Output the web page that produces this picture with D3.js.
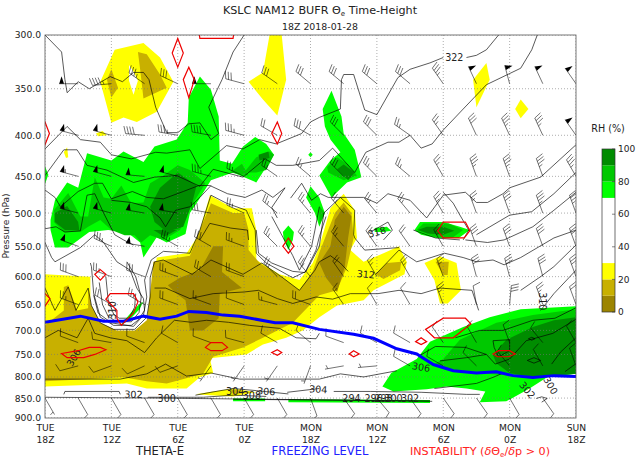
<!DOCTYPE html>
<html>
<head>
<meta charset="utf-8">
<script src="https://d3js.org/d3.v7.min.js"></script>
<style>
  html, body { margin: 0; padding: 0; background: #fff; }
  text { font-family: "DejaVu Sans", sans-serif; fill: #222; }
</style>
</head>
<body>
<svg id="chart" width="640" height="465"></svg>
<script>
// all shapes are [forecast hour, pressure hPa]
const timeTicks = [0, 6, 12, 18, 24, 30, 36, 42, 48];
const timeDays = ['TUE', 'TUE', 'TUE', 'TUE', 'MON', 'MON', 'MON', 'MON', 'SUN'];
const timeZulu = ['18Z', '12Z', '6Z', '0Z', '18Z', '12Z', '6Z', '0Z', '18Z'];
const pressureTicks = [300, 350, 400, 450, 500, 550, 600, 650, 700, 750, 800, 850, 900];
const rhTicks = [0, 20, 40, 60, 80, 100];
const rhBands = [[0, 10, '#9c8400'], [10, 20, '#c8b000'], [20, 30, '#ffff00'], [70, 80, '#00ff00'], [80, 90, '#00c800'], [90, 100, '#008c00']];

// RH <= 30 (yellow)
const yellowTop = [[6,386],[5,343],[6.3,313],[8.9,307],[10.4,320],[11.6,343],[10.1,374],[8.3,385],[7.1,380]];
const yellowRidge = [[20.3,300],[21.4,300],[21.8,341],[21,378],[19.7,361],[18.4,343],[19.7,334]];
const yellowSliver = [[39.9,325],[40.2,341],[39,369],[38.7,341]];
const yellowDiamond = [[43,361],[43.7,371],[43,381],[42.5,371]];
const yellowSpeck = [[2,414],[2.1,426],[1.9,427],[1.7,420]];
const yellowSpeck2 = [[4.6,398],[5.2,395],[5.6,400],[4.8,401]];
const yellowMain = [[0,596],[4.1,600],[4.1,652],[5,692],[6.2,706],[8.3,706],[9.3,680],[9.8,611],[10.1,568],[12.8,561],[13.7,537],[14,525],[14.9,475],[17,493],[18.7,493],[19.1,525],[19.1,572],[21.2,596],[23,606],[24.2,577],[24.8,550],[25.8,493],[27,473],[28,496],[28.2,537],[27.6,556],[28.8,575],[30.6,561],[32,550],[32.7,575],[32.5,596],[29.7,624],[28.8,642],[26.4,652],[24.8,674],[23.3,700],[21.8,715],[19.7,729],[18.2,750],[14.9,758],[15.2,791],[14,801],[12.8,827],[9.2,827],[7.4,815],[0,822]];
const yellowKnob = [[34.3,577],[35.7,566],[37.2,577],[37.6,624],[36.4,648],[35.7,648],[35.2,606]];
const yellowStrip = [[13.6,841],[17,827],[19.1,836],[17,846],[14.9,843]];
const yellowAreas = [yellowTop, yellowRidge, yellowSliver, yellowDiamond, yellowSpeck, yellowSpeck2, yellowMain, yellowKnob, yellowStrip];

// RH <= 20 (olive)
const oliveTopA = [[8.4,315],[9.2,317],[10.4,336],[11,349],[8.9,360],[8.6,331]];
const oliveTopB = [[5.6,341],[6,331],[6.6,349],[6,359]];
const oliveMain = [[0,690],[1.7,661],[1.7,618],[2.1,615],[2.9,661],[3.9,657],[3.9,620],[4.2,652],[5,685],[6.5,700],[8.1,700],[9.2,680],[9.5,630],[9.8,575],[13.1,565],[14,525],[15,486],[17,500],[18,500],[18.4,525],[18.4,556],[19.4,577],[21.5,602],[23,624],[24.2,591],[24.8,560],[26.2,500],[27,485],[27.7,500],[27.9,537],[27.3,583],[26.4,624],[24.8,633],[22.4,685],[19.7,715],[17.9,735],[15.2,755],[14.3,793],[11,815],[9.2,810],[7.1,801],[4.1,805],[0,810]];
const oliveBump = [[29.9,596],[30.9,577],[32.2,575],[32.1,589],[30.6,604]];
const oliveKnob = [[35.3,575],[36.5,575],[36.4,597],[36,597]];
const oliveStrip = [[16.7,829],[18.8,836],[17,841]];
const oliveAreas = [oliveTopA, oliveTopB, oliveMain, oliveBump, oliveKnob, oliveStrip];

// RH <= 10 (dark olive)
const darkOliveCore = [[11.1,615],[12.2,602],[14,589],[15.2,550],[16.1,550],[16,592],[17.8,620],[15.8,630],[15.7,676],[14.3,700],[13.1,700],[12.7,642],[11.9,630]];
const darkOliveLeg = [[26.2,510],[27,491],[27.7,505],[27.4,537],[27.1,583],[26.4,627],[25.4,602],[24.8,577],[25.8,550]];
const darkOliveAreas = [darkOliveCore, darkOliveLeg];

// RH >= 70 (light green)
const greenMain = [[0.5,510],[0.9,482],[2,458],[3,465],[3.8,421],[6,430],[7.1,419],[8.9,432],[9.9,413],[11.9,405],[12.9,386],[13,359],[14,338],[15,351],[15.7,379],[15.8,430],[16.9,434],[17.9,413],[19,402],[20,410],[20.7,423],[19.1,458],[17,445],[15,455],[13.7,486],[13.1,500],[12.7,531],[11,544],[10.1,536],[8.9,568],[8.6,544],[7.4,528],[5.7,525],[4,528],[2.1,552],[0.9,552],[0.5,525]];
const greenEdge = [[0,437],[0.3,448],[0,460]];
const greenColumn = [[25.9,352],[26.8,379],[27,398],[28,417],[28.6,451],[27.3,458],[25.9,478],[24.8,449],[25.8,430],[26.7,420],[25.8,405],[25.3,390],[25.1,371]];
const greenPatch = [[23.6,478],[24,463],[24.8,478],[25.3,500],[24.8,520],[24.4,500]];
const greenDrip = [[21.5,528],[22,518],[22.5,528],[22.4,540],[22,556],[21.6,540]];
const greenDot = [[23.8,423],[24,420],[24.2,423],[24,426]];
const greenLens = [[33.4,525],[33.9,513],[36,513],[37.5,520],[38.4,525],[37.4,537],[35.4,537],[34,532]];
const greenLensSmall = [[29.8,522],[30.9,520],[31.3,526],[30.6,528],[29.8,528]];
const greenLow = [[30.5,822],[31.3,791],[33.6,760],[34.8,723],[37.8,693],[40.2,674],[43,659],[48,653],[48,793],[45.6,797],[43.8,827],[41.7,858],[39.3,860],[39.8,834],[38.1,827],[36.3,822],[34.5,829],[31.5,834]];
const greenStripA = [[17,851],[19.9,851],[19.9,858],[17,858]];
const greenStripB = [[22,853],[34.8,855],[34.8,862],[22,860]];
const greenHook = [[6.8,690],[8,660],[8.5,650],[8.9,645],[8.5,660],[7.6,680]];
const greenAreas = [greenMain, greenEdge, greenColumn, greenPatch, greenDrip, greenDot, greenLens, greenLensSmall, greenLow, greenStripA, greenStripB, greenHook];

// RH >= 80 (mid green)
const midMain = [[0.8,496],[2.1,472],[3.2,505],[3.9,505],[4.5,451],[5.3,478],[6,480],[6.9,462],[7.8,486],[8.9,485],[9.5,459],[10.7,449],[12,436],[13.1,442],[14.5,459],[13.1,493],[12.2,525],[10.7,540],[9.5,533],[8.7,544],[8.1,533],[7.2,533],[6,525],[5,510],[3.9,520],[3.2,528],[1.7,528],[0.8,513]];
const midBlobA = [[16.7,445],[17.8,434],[18.4,449]];
const midBlobB = [[18,445],[19.1,426],[20.3,419],[20.7,423],[20,442],[19.1,445]];
const midColumn = [[25.5,438],[26.4,426],[27.4,435],[28.2,449],[27,455],[25.6,445]];
const midPatch = [[24.8,490],[25.3,500],[24.8,518]];
const midLens = [[33.6,525],[34.2,515],[36.5,515],[37.8,525],[36.8,537],[35.2,535]];
const midLow = [[36,760],[37.5,719],[40.8,685],[44.1,670],[48,659],[48,793],[45.3,801],[42.3,797],[39,791],[36.9,786],[35.2,771]];
const midAreas = [midMain, midBlobA, midBlobB, midColumn, midPatch, midLens, midLow];

// RH >= 90 (dark green)
const darkLeft = [[0.9,500],[2,490],[3,513],[3.1,525],[1.8,525],[0.9,513]];
const darkCentre = [[9.5,491],[10.4,465],[12,445],[13.7,462],[13.3,486],[12.5,520],[11,528],[9.9,513]];
const darkCentreLow = [[9.8,525],[10.8,535],[11.9,525]];
const darkBlob = [[19.3,423],[20.2,419],[20.3,427],[19.4,430]];
const darkColumn = [[26.4,441],[27,435],[28,445],[27.4,455]];
const darkLens = [[33.7,525],[34.5,520],[36,520],[37,526],[36,532],[34.6,530]];
const darkLow = [[40.5,752],[41.7,719],[44.1,693],[46,680],[48,674],[48,793],[44.1,801],[42,791],[40.8,769]];
const darkAreas = [darkLeft, darkCentre, darkCentreLow, darkBlob, darkColumn, darkLens, darkLow];

// dry hole in the yellow blob
const rhHole = [[7.6,327],[8,333],[8.4,342],[8,356],[7.6,342]];

// theta-e contours
const thetaA = [[0,300],[1.5,315],[1.8,341],[2,354],[3,343],[4,350],[5.9,338],[7,343],[8,334],[8.9,334],[9.4,341],[10,369],[11,397],[12,397],[13,387],[14,386],[15,405],[15.7,398],[14.8,369],[16,341],[17,315],[18,300]];
const thetaB1 = [[0,416],[2,390],[3.2,405],[5,408],[6,423],[7.8,428],[10,420],[11,421],[13.1,417],[14,440],[16.4,412],[17.9,416],[19.4,405],[20.9,410],[23.2,398],[24,385],[24.8,380],[26.7,371],[26.8,341],[27,336],[27.9,336],[28.9,372],[30,377],[31.9,339],[33,331],[34.8,325],[36,320]];
const thetaB2 = [[38.1,320],[39,318],[39.9,313],[41,300]];
const thetaC = [[0,449],[1.7,417],[2.9,417],[3.8,436],[5.6,442],[8,458],[9.9,451],[11.9,449],[14,463],[15.2,441],[17.9,451],[19.9,428],[20.9,436],[22.4,436],[24.8,430],[26,415],[28,445],[29,420],[31,408],[32,408],[33,400],[34,415],[35,410],[36,394],[37.8,371],[39.9,346],[43,330],[44,313],[44.5,300]];
const thetaD = [[0,468],[0.9,478],[1.4,491],[3,470],[4.5,459],[5.2,459],[6,480],[7.9,470],[9.2,478],[10.7,480],[12.5,470],[13.9,462],[14.9,462],[16.5,473],[18.1,478],[19.6,468],[20.6,478],[21.7,465],[20.5,492],[21,507]];
const thetaE = [[22.2,479],[23.2,459],[24.1,482],[24.9,473],[25.6,478],[28.8,478],[30,486],[31,473],[33,482],[34.5,507],[36,475],[38,471],[39,485],[40,485],[41.4,473],[42,465],[44.8,451],[48,411]];
const thetaF = [[0,523],[1,520],[1.8,528],[3.2,526],[3.8,475],[4.5,473],[5.3,500],[6.3,532],[7.1,540],[8,548]];
const thetaH = [[6,482],[7.8,485],[9.2,491],[10.4,507],[10.9,520],[11.8,496],[13.1,491],[14,478],[15,462]];
const thetaU2 = [[0,544],[0.6,568],[0.9,575],[3.2,552],[4.5,532],[5.3,544],[6.5,575],[7.7,589],[8.3,620],[8.9,639],[9,661],[8.4,680],[7.8,690],[6.2,690],[5,674],[4.4,630],[4.2,583],[4.1,577]];
const thetaU3a = [[0,620],[0.9,661],[2.1,618],[2.8,661],[3.9,620],[4.2,652],[5,685],[6.2,698],[8.1,698],[9.2,674],[9.5,636],[9.5,602],[9.9,575],[10.7,572],[13.3,596],[15,572],[17.9,596],[19.6,577],[21.5,602],[23,624],[24.4,589],[24.8,575],[25.8,565],[26.7,577],[27.4,591]];
const thetaU3b = [[29.9,596],[32,556],[33.6,575],[34.9,568],[36.1,561],[37.8,568],[39,575],[40.5,572],[41.5,580],[43,568],[46,537],[48,525]];
const thetaU4 = [[4.4,633],[4.8,666],[6,685],[8,692],[8.9,670],[9.2,636],[9,606],[9.6,572],[10.7,558],[13.1,561],[14,525],[15,475],[16.4,486],[18.2,496],[19,525],[19.1,561],[20,577],[22.4,602],[23.6,591],[24.8,550],[25.2,500],[26.7,478],[28,496],[27.9,532],[28,537],[28.9,556],[32,552]];
const thetaU5 = [[4.9,610],[5.2,650],[5.7,672],[6.4,682],[7.8,683],[8.5,665],[8.7,636],[8.2,600],[7.4,575]];
const thetaU6 = [[5.5,600],[5.7,640],[6.2,668],[6.7,676],[7.6,676],[8.1,655],[8.2,630]];
const thetaV1 = [[19.1,525],[19.3,561],[20.5,577],[22.4,591],[23.5,593],[24.5,556],[24.8,535],[25.4,505]];
const thetaV2 = [[20.5,505],[21,520],[22.4,565],[23,589],[24.1,550],[24.4,525],[24.8,491]];
const thetaInner = [[14,540],[14.9,515],[16.8,522],[18.3,525],[18.4,540]];
const thetaLa = [[0,715],[1.2,700],[2.9,715],[3.9,676],[4.5,706],[5.9,715],[7.4,721],[9,746],[10.1,715],[11.7,680],[13.2,684],[14.6,680],[16.6,684],[18.5,690],[21.2,696],[22.7,715],[24.5,717],[24.8,706]];
const thetaLb = [[9.9,620],[10.9,620],[13.1,639],[15.2,630],[18,627],[19.3,624],[21,639],[22.4,648],[24.5,636],[26,640],[27.6,630],[30.1,630],[32,624],[34,630],[35.7,620],[38.6,624],[39.2,661]];
const thetaLc = [[0,805],[3.8,805],[6.8,805],[9.2,793],[10.9,771],[12.8,798],[15,791],[17.6,805],[24.8,805],[26.7,793],[28.8,800],[31.8,786]];
const thetaLd = [[33.9,752],[35.3,733],[38,735],[39.9,750]];
const theta302 = [[1.7,841],[1.8,834],[6.7,834],[6.8,841]];
const theta300 = [[9.3,848],[14.3,848],[17,843],[20,846]];
const theta304 = [[13.6,843],[15,836],[17,827],[19.1,832],[22,840]];
const thetaLf = [[21.9,836],[24.8,827]];
const thetaLg = [[26.1,834],[29.4,834],[34,836],[38.1,841],[39.3,841]];
const thetaThickA = [[0,848],[10,850],[20,853],[34.8,857]];
const thetaThickB = [[17,853],[26,855],[35,858]];
const thetaM = [[36,471],[36.9,486],[37.4,500],[38.3,525],[37.8,540]];
const thetaM2 = [[33.3,525],[35.3,537],[37.5,540]];
const thetaN = [[39,532],[42,503],[44,498],[46,473],[48,445]];
const thetaO = [[38,540],[40,544],[41.5,540],[44.1,520],[46,496],[48,471]];
const thetaQ = [[43,624],[44.8,600],[46,583],[48,548]];
const thetaS = [[44.8,661],[46,630],[48,589]];
const thetaRa = [[37.1,715],[39.3,700],[41.4,700],[44.1,680],[46.1,676],[48,656]];
const thetaRb = [[35.7,764],[38.1,757],[39.9,750],[40.7,771],[42,760],[43.5,721],[45.9,706],[48,678]];
const thetaRc = [[35.2,827],[39,815],[40.5,801],[41.5,790]];
const thetaRd = [[40.5,721],[42,719],[42,742],[41,755],[40.6,735],[40.5,721]];
const thetaRe = [[45.8,771],[46.6,745],[48,715]];
const thetaRf = [[47,788],[48,770]];
const theta318 = [[29.2,530],[31,513],[31.4,525],[30.6,540]];
const thetaRing = [[44.4,851],[44.9,847],[45.4,851],[44.9,860]];
const thetaLoopA = [[43.6,763],[44.2,757],[44.8,763],[44.2,769],[43.6,763]];
const thetaLoopB = [[43.7,717],[44,714],[44.3,717],[44,720],[43.7,717]];
const contours = [thetaA, thetaB1, thetaB2, thetaC, thetaD, thetaE, thetaF, thetaH, thetaU2, thetaU3a, thetaU3b, thetaU4, thetaU5, thetaU6, thetaV1, thetaV2, thetaInner, thetaLa, thetaLb, thetaLc, thetaLd, theta302, theta300, theta304, thetaLf, thetaLg, thetaThickA, thetaThickB, thetaM, thetaM2, thetaN, thetaO, thetaQ, thetaS, thetaRa, thetaRb, thetaRc, thetaRd, thetaRe, thetaRf, theta318, thetaRing, thetaLoopA, thetaLoopB];

// contour labels: hour, hPa, text, rotation
const contourLabels = [[37,320,'322',0],[30,528,'318',-15],[29,596,'312',5],[6.1,661,'310',-90],[2.6,757,'306',-60],[8,841,'302',2],[11,851,'300',0],[17.2,834,'304',0],[18.7,843,'308',0],[20,834,'306',3],[24.7,829,'304',3],[27.7,852,'294',0],[29.7,852,'296',0],[30.6,852,'298',0],[31.5,852,'300',0],[33,852,'302',0],[34,778,'306',10],[43.6,831,'302',50],[45.7,820,'300',60],[45,644,'310',90]];

// instability outlines
const redTop = [[13.9,296],[14,303],[17,303],[17.1,296]];
const redA = [[12,303],[12.5,316],[12,329],[11.5,316]];
const redB = [[13,329],[13.5,341],[13,359],[12.5,341]];
const redC = [[0,385],[0.4,398],[0,411],[-0.5,398]];
const redD = [[21,385],[21.4,398],[21,410],[20.5,398]];
const redE = [[36,513],[38,513],[38.4,526],[37.9,537],[36,537],[35.5,526]];
const redF = [[22,537],[22.5,550],[22,561],[21.5,550]];
const redG = [[5,588],[5.5,596],[5,606],[4.5,596]];
const redH = [[0,630],[0.45,639],[0,653],[-0.5,639]];
const redI = [[5.9,630],[8,630],[8.4,645],[8,666],[6.9,690],[6.5,676],[6.5,661],[5.5,640]];
const redJ = [[1.5,748],[3,742],[4,735],[5,735],[5.5,740],[4.5,750],[3.5,757],[2,757]];
const redK = [[14.5,735],[15,725],[16,725],[16.5,735],[16,742],[15,742]];
const redL = [[21,740],[21.4,746],[21,752],[20.5,746]];
const redM = [[27.9,742],[28.4,749],[27.9,755],[27.5,749]];
const redN = [[34,715],[34.5,723],[34,729],[33.5,723]];
const redO = [[36,676],[38,676],[38.5,687],[36.9,715],[35.2,715],[34.4,698]];
const redP = [[41,742],[42,742],[42.5,749],[41.9,755],[40.9,755],[40.5,749]];
const instability = [redTop, redA, redB, redC, redD, redE, redF, redG, redH, redI, redJ, redK, redL, redM, redN, redO, redP];

// freezing level
const freezingHours = [0,3.2,5.3,7.1,8.9,10.4,11.9,13,14.6,16.1,17.6,20.8,22.4,24.8,27.9,29.7,31.8,33.6,35.1,36.9,39,40.8,42.3,44.1,46,48];
const freezingLevel = [684,672,682,682,672,678,672,663,665,670,672,685,685,698,708,716,738,749,772,786,791,788,797,801,797,799];

// wind barbs, one row per level, hours 0,3,...,48
const barbHours = [0,3,6,9,12,15,18,21,24,27,30,33,36,39,42,45,48];
const barbLevels = [345,400,450,500,550,600,650,725,775,850];
const barbDir = [
  [null,270,265,305,295,270,285,305,310,310,310,310,325,335,345,335,325],
  [null,285,285,275,280,280,285,300,300,315,315,305,325,335,335,335,325],
  [null,285,285,275,285,285,295,305,310,315,315,310,330,340,340,340,330],
  [null,285,285,280,280,280,295,310,320,320,320,320,330,340,340,340,340],
  [null,290,295,280,300,300,290,315,320,320,325,325,330,340,340,340,340],
  [null,290,290,290,290,300,290,315,320,325,330,330,340,345,345,345,340],
  [null,290,300,300,290,290,290,285,290,325,330,330,340,350,5,340,340],
  [null,290,280,290,300,290,285,300,310,290,300,300,325,330,340,320,330],
  [null,255,250,245,250,215,215,215,200,260,265,300,300,315,320,330,340],
  [150,150,150,150,150,150,150,150,160,145,140,145,145,145,150,145,90]
];
const barbSpeed = [
  [null,50,45,35,30,50,30,30,30,30,30,30,35,50,50,50,50],
  [null,50,50,40,35,40,35,20,30,30,30,25,25,30,35,35,50],
  [null,55,50,50,50,35,25,25,25,30,25,25,25,35,35,35,35],
  [null,50,50,50,50,30,25,25,25,25,25,25,25,25,30,35,35],
  [null,50,35,50,35,30,25,25,25,25,20,20,25,30,30,30,30],
  [null,30,25,30,25,25,20,25,25,20,25,25,25,30,30,30,30],
  [null,25,20,25,20,15,10,15,20,15,10,10,25,10,30,25,20],
  [null,10,10,10,10,10,10,10,10,10,10,10,10,10,10,10,10],
  [null,10,10,10,10,5,5,5,5,5,5,10,10,10,10,10,10],
  [5,10,10,10,10,10,10,10,10,10,10,10,10,10,10,10,5]
];

const margin = {top: 35, right: 64, bottom: 47, left: 45};
const width = 640 - margin.left - margin.right;
const height = 465 - margin.top - margin.bottom;

const svg = d3.select('#chart');
const g = svg.append('g').attr('transform', 'translate(' + margin.left + ',' + margin.top + ')');

const xScale = d3.scaleLinear().domain([0, 48]).range([0, width]);
const yScale = d3.scaleLog().domain([300, 900]).range([0, height]);
const line = d3.line().x(d => xScale(d[0])).y(d => yScale(d[1]));

svg.append('defs').append('clipPath').attr('id', 'plotClip')
  .append('rect').attr('width', width).attr('height', height);
const plot = g.append('g').attr('clip-path', 'url(#plotClip)');

function fillAreas(areas, colour) {
  plot.append('g').selectAll('path').data(areas).enter().append('path')
    .attr('d', d => line(d) + 'Z')
    .attr('fill', colour);
}
fillAreas(yellowAreas, '#ffff00');
fillAreas(oliveAreas, '#c8b000');
fillAreas(darkOliveAreas, '#9c8400');
fillAreas(greenAreas, '#00ff00');
fillAreas(midAreas, '#00c800');
fillAreas(darkAreas, '#008c00');
fillAreas([rhHole], '#ffffff');

// dotted grid
plot.append('g').selectAll('line').data(timeTicks).enter().append('line')
  .attr('x1', d => xScale(d)).attr('x2', d => xScale(d))
  .attr('y1', 0).attr('y2', height)
  .attr('stroke', '#777').attr('stroke-width', 0.6).attr('stroke-dasharray', '1,2');
plot.append('g').selectAll('line').data(pressureTicks).enter().append('line')
  .attr('x1', 0).attr('x2', width)
  .attr('y1', d => yScale(d)).attr('y2', d => yScale(d))
  .attr('stroke', '#777').attr('stroke-width', 0.6).attr('stroke-dasharray', '1,2');

plot.append('g').selectAll('path').data(contours).enter().append('path')
  .attr('d', line)
  .attr('fill', 'none')
  .attr('stroke', '#000')
  .attr('stroke-width', 0.65);

plot.append('g').selectAll('text').data(contourLabels).enter().append('text')
  .attr('transform', d => 'translate(' + xScale(d[0]) + ',' + yScale(d[1]) + ') rotate(' + d[3] + ')')
  .attr('text-anchor', 'middle')
  .attr('dy', '0.35em')
  .attr('font-size', 9.6)
  .text(d => d[2]);

// builds one barb around its base point, staff towards where the wind comes from
function barbPaths(dir, speed) {
  const len = 19, spacing = 2.9, flagH = 7.4, flagW = 4.8, featherH = 7.4, lean = 2.4;
  const a = dir * Math.PI / 180;
  const ux = Math.sin(a), uy = -Math.cos(a);
  const vx = -uy, vy = ux;
  const pt = (s, n) => (ux * s + vx * n).toFixed(2) + ',' + (uy * s + vy * n).toFixed(2);
  let staff = 'M0,0L' + pt(len, 0);
  let flags = '';
  let pos = len;
  let rest = Math.round(speed / 5) * 5;
  while (rest >= 50) {
    flags += 'M' + pt(pos, 0) + 'L' + pt(pos - flagW / 2, flagH) + 'L' + pt(pos - flagW, 0) + 'Z';
    pos -= flagW + 1;
    rest -= 50;
  }
  while (rest >= 10) {
    staff += 'M' + pt(pos, 0) + 'L' + pt(pos + lean, featherH);
    pos -= spacing;
    rest -= 10;
  }
  if (rest >= 5) {
    if (pos === len) pos -= spacing;
    staff += 'M' + pt(pos, 0) + 'L' + pt(pos + lean / 2, featherH / 2);
  }
  return {staff: staff, flags: flags};
}

const barbData = [];
barbLevels.forEach((level, r) => {
  barbHours.forEach((hour, c) => {
    if (barbDir[r][c] !== null) barbData.push({hour: hour, level: level, dir: barbDir[r][c], speed: barbSpeed[r][c]});
  });
});
const barbs = plot.append('g').selectAll('g').data(barbData).enter().append('g')
  .attr('transform', d => 'translate(' + xScale(d.hour) + ',' + yScale(d.level) + ')');
barbs.append('path')
  .attr('d', d => barbPaths(d.dir, d.speed).staff)
  .attr('fill', 'none').attr('stroke', '#000').attr('stroke-width', 0.55);
barbs.append('path')
  .attr('d', d => barbPaths(d.dir, d.speed).flags)
  .attr('fill', '#000');

plot.append('path')
  .datum(freezingHours.map((h, i) => [h, freezingLevel[i]]))
  .attr('d', line)
  .attr('fill', 'none').attr('stroke', '#0000ff').attr('stroke-width', 3);

plot.append('g').selectAll('path').data(instability).enter().append('path')
  .attr('d', d => line(d) + 'Z')
  .attr('fill', 'none').attr('stroke', '#ee0000').attr('stroke-width', 1.2);

// axes
const xAxis = g.append('g').attr('transform', 'translate(0,' + height + ')')
  .call(d3.axisBottom(xScale).tickValues(timeTicks).tickSize(0).tickPadding(0).tickFormat(''));
xAxis.selectAll('.tick').each(function(d, i) {
  const t = d3.select(this).select('text').attr('font-size', 9.2).attr('y', 0).attr('dy', null);
  t.append('tspan').attr('x', 0).attr('y', 13).text(timeDays[i]);
  t.append('tspan').attr('x', 0).attr('y', 24.5).text(timeZulu[i]);
});
const yAxis = g.append('g')
  .call(d3.axisLeft(yScale).tickValues(pressureTicks).tickSize(0).tickPadding(4).tickFormat(d => d.toFixed(1)));
yAxis.selectAll('text').attr('font-size', 9.2);
g.selectAll('.domain').attr('stroke', 'none');
g.append('rect').attr('width', width).attr('height', height)
  .attr('fill', 'none').attr('stroke', '#555').attr('stroke-width', 0.8);

// titles
const title = svg.append('text').attr('x', 320).attr('y', 14).attr('text-anchor', 'middle').attr('font-size', 11.2);
title.append('tspan').text('KSLC NAM12 BUFR Θ');
title.append('tspan').attr('dy', 2).attr('font-size', 7).text('e');
title.append('tspan').attr('dy', -2).text(' Time-Height');
svg.append('text').attr('x', 320).attr('y', 30).attr('text-anchor', 'middle').attr('font-size', 9.4).text('18Z 2018-01-28');
svg.append('text').attr('transform', 'translate(9,226) rotate(-90)').attr('text-anchor', 'middle').attr('font-size', 9.1).text('Pressure (hPa)');

svg.append('text').attr('x', 160).attr('y', 455).attr('text-anchor', 'middle').attr('font-size', 11.5).text('THETA-E');
svg.append('text').attr('x', 320).attr('y', 455).attr('text-anchor', 'middle').attr('font-size', 11.5).style('fill', '#2222ff').text('FREEZING LEVEL');
const unstable = svg.append('text').attr('x', 480).attr('y', 455).attr('text-anchor', 'middle').attr('font-size', 11.2).style('fill', '#ff2222');
unstable.append('tspan').text('INSTABILITY (');
unstable.append('tspan').attr('font-style', 'italic').text('δ');
unstable.append('tspan').text('Θ');
unstable.append('tspan').attr('dy', 2).attr('font-size', 7).text('e');
unstable.append('tspan').attr('dy', -2).text('/');
unstable.append('tspan').attr('font-style', 'italic').text('δ');
unstable.append('tspan').text('p > 0)');

// colour bar
const barX = 602, barW = 13;
const barScale = d3.scaleLinear().domain([0, 100]).range([312, 149]);
const bar = svg.append('g');
bar.selectAll('rect').data(rhBands).enter().append('rect')
  .attr('x', barX).attr('width', barW)
  .attr('y', d => barScale(d[1]))
  .attr('height', d => barScale(d[0]) - barScale(d[1]))
  .attr('fill', d => d[2]);
bar.append('rect').attr('x', barX).attr('y', barScale(100)).attr('width', barW)
  .attr('height', barScale(0) - barScale(100))
  .attr('fill', 'none').attr('stroke', '#333').attr('stroke-width', 0.7);
bar.selectAll('line').data(rhTicks).enter().append('line')
  .attr('x1', barX + barW - 3).attr('x2', barX + barW)
  .attr('y1', d => barScale(d)).attr('y2', d => barScale(d))
  .attr('stroke', '#333').attr('stroke-width', 0.6);
bar.selectAll('text').data(rhTicks).enter().append('text')
  .attr('x', barX + barW + 3).attr('y', d => barScale(d)).attr('dy', '0.35em')
  .attr('font-size', 9).text(d => d);
svg.append('text').attr('x', 608).attr('y', 132).attr('text-anchor', 'middle').attr('font-size', 9.6).text('RH (%)');
</script>
</body>
</html>
